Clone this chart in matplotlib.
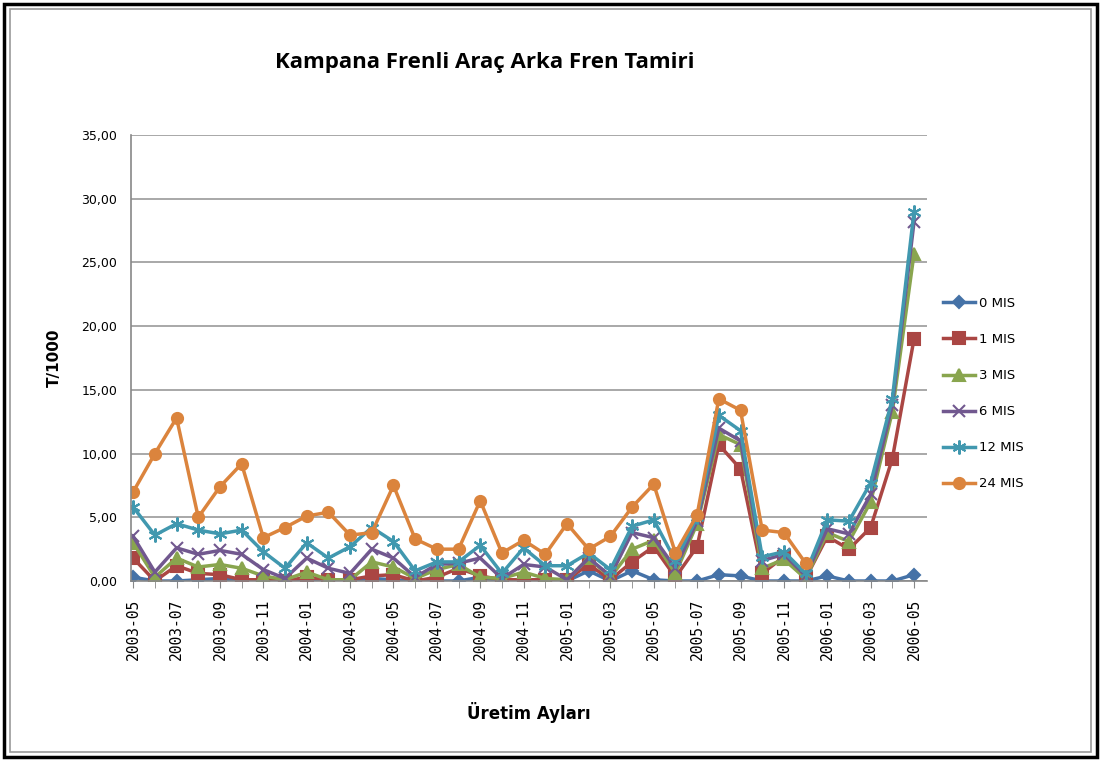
import matplotlib.pyplot as plt
from matplotlib.patches import Rectangle
from matplotlib.ticker import FuncFormatter, MultipleLocator

# uretim aylari 2003-05 .. 2006-05
months = []
for y in (2003, 2004, 2005, 2006):
    for m in range(1, 13):
        if (y == 2003 and m < 5) or (y == 2006 and m > 5):
            continue
        months.append("%d-%02d" % (y, m))

mis_0 = [0.3, 0.0, 0.0, 0.1, 0.2, 0.0, 0.0, 0.0, 0.1, 0.0, 0.1, 0.2, 0.1, 0.0, 0.0, 0.0,
         0.3, 0.0, 0.0, 0.0, 0.0, 0.8, 0.0, 0.8, 0.1, 0.0, 0.0, 0.5, 0.4, 0.0, 0.0, 0.0,
         0.4, 0.0, 0.0, 0.0, 0.5]
mis_1 = [1.8, 0.0, 1.2, 0.6, 0.5, 0.1, 0.1, 0.0, 0.3, 0.1, 0.1, 0.4, 0.5, 0.0, 0.3, 1.0,
         0.4, 0.1, 0.1, 0.1, 0.1, 1.3, 0.1, 1.5, 2.7, 0.3, 2.7, 10.7, 8.8, 0.6, 1.9, 0.2,
         3.5, 2.5, 4.2, 9.6, 19.0]
mis_3 = [3.0, 0.3, 1.8, 1.1, 1.3, 1.0, 0.4, 0.1, 0.7, 0.1, 0.1, 1.5, 1.1, 0.2, 0.9, 1.3,
         0.3, 0.2, 0.7, 0.2, 0.1, 1.8, 0.3, 2.5, 3.2, 0.6, 4.5, 11.5, 10.7, 1.0, 1.7, 0.2,
         3.8, 3.1, 6.2, 13.3, 25.7]
mis_6 = [3.5, 0.7, 2.6, 2.1, 2.4, 2.1, 0.9, 0.2, 1.8, 1.0, 0.6, 2.5, 1.8, 0.3, 1.3, 1.4,
         1.8, 0.2, 1.3, 1.1, 0.1, 1.8, 0.4, 3.8, 3.4, 1.0, 4.7, 12.0, 11.0, 1.6, 2.1, 0.4,
         4.1, 3.7, 6.8, 13.8, 28.2]
mis_12 = [5.8, 3.6, 4.5, 4.0, 3.7, 4.0, 2.3, 1.0, 3.0, 1.8, 2.7, 4.2, 3.1, 0.8, 1.5, 1.5,
          2.8, 0.6, 2.6, 1.2, 1.2, 2.2, 0.9, 4.3, 4.8, 1.6, 5.0, 13.0, 11.8, 1.9, 2.3, 0.6,
          4.8, 4.7, 7.7, 14.3, 29.0]
mis_24 = [7.0, 10.0, 12.8, 5.0, 7.4, 9.2, 3.4, 4.2, 5.1, 5.4, 3.6, 3.8, 7.5, 3.3, 2.5, 2.5,
          6.3, 2.2, 3.2, 2.1, 4.5, 2.5, 3.5, 5.8, 7.6, 2.2, 5.2, 14.3, 13.4, 4.0, 3.8, 1.4]

series = [
    ("0 MIS", mis_0, "#4572A7", "D", 6.5),
    ("1 MIS", mis_1, "#AA4643", "s", 8),
    ("3 MIS", mis_3, "#89A54E", "^", 8),
    ("6 MIS", mis_6, "#71588F", "x", 9),
    ("12 MIS", mis_12, "#4198AF", (6, 2, 0), 10),
    ("24 MIS", mis_24, "#DB843D", "o", 8),
]

fig = plt.figure(figsize=(11.01, 7.61), dpi=100)
fig.patches.append(Rectangle((0.004, 0.005), 0.992, 0.99, transform=fig.transFigure,
                             fill=False, edgecolor="black", linewidth=2.5))
fig.patches.append(Rectangle((0.009, 0.012), 0.982, 0.976, transform=fig.transFigure,
                             fill=False, edgecolor="#999999", linewidth=1.2))

ax = fig.add_axes([0.119, 0.2365, 0.723, 0.586])

for name, vals, col, mk, ms in series:
    ax.plot(range(len(vals)), vals, color=col, marker=mk, markersize=ms,
            linewidth=2.5, label=name, markeredgewidth=1.5, markeredgecolor=col)

ax.set_ylim(0, 35)
ax.set_xlim(-0.1, 36.6)
ax.yaxis.set_major_locator(MultipleLocator(5))
ax.yaxis.set_major_formatter(FuncFormatter(lambda v, p: ("%.2f" % v).replace(".", ",")))
ax.grid(axis="y", color="#999999", linewidth=1.2)
ax.set_axisbelow(True)

ax.set_xticks(range(0, len(months), 2))
ax.set_xticklabels(months[::2], rotation=90, family="DejaVu Sans Mono", fontsize=10.5)
ax.set_xticks(range(len(months)), minor=True)
ax.tick_params(axis="x", which="both", length=5, color="#888888", direction="out", pad=8)
ax.tick_params(axis="y", length=0, labelsize=9, pad=10)

for s in ("top", "right"):
    ax.spines[s].set_visible(False)
for s in ("left", "bottom"):
    ax.spines[s].set_color("#888888")
    ax.spines[s].set_linewidth(1.2)

ax.set_ylabel("T/1000", fontsize=11, fontweight="bold", labelpad=14)
ax.set_xlabel("Üretim Ayları", fontsize=12, fontweight="bold", labelpad=30)

fig.text(0.44, 0.918, "Kampana Frenli Araç Arka Fren Tamiri", ha="center", va="center",
         fontsize=16, fontweight="bold", family="Open Sans")

ax.legend(loc="center left", bbox_to_anchor=(1.005, 0.42), frameon=False, fontsize=9.5,
          handlelength=2.4, labelspacing=1.75, handletextpad=0.3)

fig.savefig("out.png", dpi=100)
